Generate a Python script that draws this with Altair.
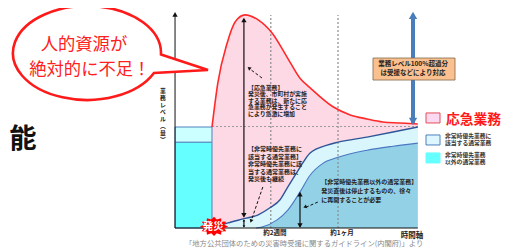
import math
import altair as alt
import pandas as pd

# ---------------- data ----------------
# x: days after the disaster, y: business level (% of normal)
emergency_day = [0, 1.4, 3.6, 5.5, 7.9, 11.0, 14.3, 17.9, 21.0, 23.3, 28.8, 32.9, 36.9, 40.7, 44.8, 49.0]
emergency_level = [100, 144, 183, 204, 211, 206, 193, 169, 148, 139, 120, 112, 108, 105, 104, 103]

priority_day = [0, 3.8, 7.4, 11.0, 13.8, 16.2, 18.1, 20.2, 21.7, 23.3, 27.4, 30.0, 36.9, 43.1, 49.0]
priority_level = [0, 5, 9, 13, 20, 28, 41, 55, 65, 74, 82, 85, 90, 95, 100]

other_day = [10.5, 11.9, 15.5, 18.1, 21.0, 23.3, 26.4, 30.0, 36.9, 43.1, 49.0]
other_level = [0, 1, 8, 18, 36, 52, 64, 70, 77, 81, 84]

pre_start_day = -8.8
pre_other_level = 85
pre_total_level = 100
end_day = 49.0

tick_days = [14, 30]
tick_labels = ["約2週間", "約1ヶ月"]

legend_labels = ["応急業務", "非常時優先業務に\n該当する通常業務", "非常時優先業務\n以外の通常業務"]

FONT = "Noto Sans CJK JP"
PINK = "#FDD8E5"
LIGHT = "#DAF6FD"
MID = "#93D2E6"
CYAN = "#66FFFF"
PALE = "#CCFFFF"
BLUE = "#4F81BD"

XS = alt.Scale(domain=[-48.57, 69.76], nice=False, zero=False)
YS = alt.Scale(domain=[-20.79, 217.82], nice=False, zero=False)


def X(f):
    return alt.X(f"{f}:Q", scale=XS, axis=None)


def Y(f):
    return alt.Y(f"{f}:Q", scale=YS, axis=None)


def T(df, **kw):
    base = dict(font=FONT, fontWeight="bold", fontSize=6, align="left", baseline="top",
                color="#222222", lineBreak="\n")
    base.update(kw)
    return alt.Chart(df).mark_text(**base).encode(x=X("x"), y=Y("y"), text="text:N")


def R(df, **kw):
    return alt.Chart(df).mark_rule(**kw).encode(x=X("x"), x2="x2", y=Y("y"), y2="y2")


def H(df, **kw):
    return alt.Chart(df).mark_point(shape="triangle-up", filled=True, opacity=1, **kw).encode(
        x=X("x"), y=Y("y"), angle=alt.Angle("a:Q", scale=None))


def rect(df, **kw):
    return alt.Chart(df).mark_rect(**kw).encode(x=X("x"), x2="x2", y=Y("y"), y2="y2")


# ---------- shapes (symbol paths in a -1..1 box) ----------
def ellipse_arc(cx, cy, rx, ry, t1, t2, n):
    d = (t2 - t1) / n
    k = 4 / 3 * math.tan(d / 4)
    out = []
    for i in range(n):
        a = t1 + i * d
        b = a + d
        p3 = (cx + rx * math.cos(b), cy + ry * math.sin(b))
        p0 = (cx + rx * math.cos(a), cy + ry * math.sin(a))
        c1 = (p0[0] - k * rx * math.sin(a), p0[1] + k * ry * math.cos(a))
        c2 = (p3[0] + k * rx * math.sin(b), p3[1] - k * ry * math.cos(b))
        out.append(f"C{c1[0]:.4f},{c1[1]:.4f} {c2[0]:.4f},{c2[1]:.4f} {p3[0]:.4f},{p3[1]:.4f}")
    return out


ecx, ecy, erx, ery = -0.254, -0.005, 0.767, 0.487
tu, tl = 0.03, 0.44
ub = (ecx + erx * math.cos(tu), ecy + ery * math.sin(tu))
lb = (ecx + erx * math.cos(tl), ecy + ery * math.sin(tl))
BUBBLE = (f"M{ub[0]:.4f},{ub[1]:.4f}L1,0.171L{lb[0]:.4f},{lb[1]:.4f}"
          + "".join(ellipse_arc(ecx, ecy, erx, ery, tl, tu + 2 * math.pi, 8)) + "Z")

pts = []
for i in range(24):
    a = i * math.pi / 12
    r = 1.0 if i % 2 == 0 else 0.74
    pts.append(f"{r * math.cos(a):.3f},{0.68 * r * math.sin(a):.3f}")
BURST = "M" + "L".join(pts) + "Z"

# ---------- frames ----------
df_em = pd.DataFrame({"x": emergency_day, "y": emergency_level})
df_pr = pd.DataFrame({"x": priority_day, "y": priority_level})
df_ot = pd.DataFrame({"x": other_day, "y": other_level})

layers = []
layers.append(alt.Chart(df_em).mark_area(color=PINK, interpolate="monotone", opacity=1)
              .encode(x=X("x"), y=Y("y"), y2=alt.datum(0)))
layers.append(alt.Chart(df_pr).mark_area(color=LIGHT, interpolate="monotone", opacity=1)
              .encode(x=X("x"), y=Y("y"), y2=alt.datum(0)))
layers.append(alt.Chart(df_ot).mark_area(color=MID, interpolate="monotone", opacity=1)
              .encode(x=X("x"), y=Y("y"), y2=alt.datum(0)))

# pre-disaster bars
layers.append(rect(pd.DataFrame({"x": [pre_start_day], "x2": [0], "y": [0], "y2": [pre_other_level]}),
                   color=CYAN, stroke=BLUE, strokeWidth=1))
layers.append(rect(pd.DataFrame({"x": [pre_start_day], "x2": [0], "y": [pre_other_level], "y2": [pre_total_level]}),
                   color=PALE, stroke=BLUE, strokeWidth=1))

# dotted guides
layers.append(R(pd.DataFrame({"x": tick_days, "x2": tick_days, "y": [0, 0], "y2": [211, 211]}),
                color="#8C8C8C", strokeDash=[2, 2], strokeWidth=1.2))
layers.append(R(pd.DataFrame({"x": [0], "x2": [end_day], "y": [100.5], "y2": [100.5]}),
                color="#9A9A9A", strokeDash=[2, 2], strokeWidth=1.2))

# curves
layers.append(alt.Chart(df_em).mark_line(color="#FF2A2A", strokeWidth=1.6, interpolate="monotone")
              .encode(x=X("x"), y=Y("y")))
layers.append(alt.Chart(df_pr).mark_line(color="#2F5597", strokeWidth=1.4, interpolate="monotone")
              .encode(x=X("x"), y=Y("y")))
layers.append(alt.Chart(df_ot).mark_line(color="#4A78C2", strokeWidth=1.1, interpolate="monotone")
              .encode(x=X("x"), y=Y("y")))

# axes
layers.append(R(pd.DataFrame({"x": [pre_start_day, pre_start_day], "x2": [pre_start_day, end_day],
                              "y": [0, 0], "y2": [212, 0]}), color="#111111", strokeWidth=1))

# black arrows
layers.append(R(pd.DataFrame({"x": [7.6, 7.6, 20.95], "x2": [7.6, 7.6, 20.95],
                              "y": [11.5, 1, 1], "y2": [207, 8, 35]}), color="#111111", strokeWidth=1.2))
layers.append(R(pd.DataFrame({"x": [11.9, 12.1, 25.2], "x2": [8.9, 9.4, 22.3],
                              "y": [148.5, 40.6, 25.7], "y2": [157.8, 8.0, 20.4]}),
                color="#111111", strokeWidth=1, strokeDash=[3, 2]))
layers.append(H(pd.DataFrame({"x": [pre_start_day, 7.6, 7.6, 20.95, 20.95],
                              "y": [211.5, 206, 12.5, 33.5, 2.5],
                              "a": [0, 0, 180, 0, 180]}), size=28, color="#111111"))
layers.append(H(pd.DataFrame({"x": [7.6, 7.6], "y": [7.6, 1.6], "a": [0, 180]}), size=7, color="#111111"))
layers.append(H(pd.DataFrame({"x": [8.81, 9.29, 22.14], "y": [158.4, 6.9, 20.8],
                              "a": [307.6, 199.4, 249]}), size=16, color="#111111"))

# thick blue arrow
layers.append(R(pd.DataFrame({"x": [47.86], "x2": [47.86], "y": [104], "y2": [211]}),
                color="#4A7EBB", strokeWidth=4))
layers.append(H(pd.DataFrame({"x": [47.86, 47.86], "y": [210.5, 105.5], "a": [0, 180]}),
                size=70, color="#4A7EBB"))

# orange note
layers.append(rect(pd.DataFrame({"x": [38.33], "x2": [57.86], "y": [146.5], "y2": [168.3]}),
                   color="#FAC08F", stroke="#7F6A4A", strokeWidth=0.8))
layers.append(T(pd.DataFrame({"x": [47.86, 47.86], "y": [162.2, 153.6],
                              "text": ["業務レベル100%超過分", "は受援などにより対応"]}),
                align="center", baseline="middle", fontSize=6.5))

# annotations
layers.append(T(pd.DataFrame({"x": [8.57], "y": [141.6],
                              "text": ["【応急業務】\n発災後、市町村が実施\nする業務は、新たに応\n急業務が発生すること\nにより急激に増加"]}),
                lineHeight=6.4, fontSize=5.9))
layers.append(T(pd.DataFrame({"x": [8.57], "y": [80.7],
                              "text": ["【非常時優先業務に\n該当する通常業務】\n非常時優先業務に該\n当する通常業務は、\n発災後も継続"]}),
                lineHeight=7.5))
layers.append(T(pd.DataFrame({"x": [26.0], "y": [48.5],
                              "text": ["【非常時優先業務以外の通常業務】\n発災直後は停止するものの、徐々\nに再開することが必要"]}),
                lineHeight=9))

# legend
layers.append(rect(pd.DataFrame({"x": [50.95], "x2": [54.29], "y": [104.0], "y2": [113.9]}),
                   color="#FBD9F0", stroke="#E0505A", strokeWidth=1))
layers.append(rect(pd.DataFrame({"x": [50.95], "x2": [54.29], "y": [82.2], "y2": [92.1]}),
                   color="#DDF6FF", stroke=BLUE, strokeWidth=1))
layers.append(rect(pd.DataFrame({"x": [50.95], "x2": [54.29], "y": [64.4], "y2": [74.3]}),
                   color=CYAN, stroke=CYAN, strokeWidth=1))
layers.append(T(pd.DataFrame({"x": [55.7], "y": [106.9], "text": [legend_labels[0]]}),
                baseline="middle", fontSize=13.8, color="#FF1A1A"))
layers.append(T(pd.DataFrame({"x": [55.48, 55.48], "y": [93.6, 75.2], "text": legend_labels[1:]}),
                lineHeight=6.6, fontSize=5.8, color="#333333"))

# speech bubble
layers.append(alt.Chart(pd.DataFrame({"x": [-23.93], "y": [172.8]})).mark_point(
    shape=BUBBLE, size=37249, filled=True, fill="white", stroke="#FF1A1A", strokeWidth=2.6,
    opacity=1).encode(x=X("x"), y=Y("y")))
layers.append(T(pd.DataFrame({"x": [-30.48, -29.1], "y": [181.2, 156.4],
                              "text": ["人的資源が", "絶対的に不足！"]}),
                align="center", baseline="middle", fontSize=17.3, fontWeight="normal", color="#FF2020"))

# disaster burst
layers.append(alt.Chart(pd.DataFrame({"x": [0.48], "y": [1.5]})).mark_point(
    shape=BURST, size=800, filled=True, color="#FF0000", opacity=1).encode(x=X("x"), y=Y("y")))
layers.append(T(pd.DataFrame({"x": [0.3], "y": [1.0], "text": ["発災"]}),
                align="center", baseline="middle", fontSize=10.5, color="white"))

# axis texts
layers.append(T(pd.DataFrame({"x": tick_days, "y": [-4.95, -4.95], "text": tick_labels}),
                align="center", baseline="middle", fontSize=6.5, dx=4))
layers.append(T(pd.DataFrame({"x": [47.62], "y": [-7.9], "text": ["時間軸"]}),
                align="center", baseline="middle", fontSize=7.5))
layers.append(T(pd.DataFrame({"x": [-11.67], "y": [138.6], "text": ["業\n務\nレ\nベ\nル\n︵\n量\n︶"]}),
                align="center", fontSize=5.8, lineHeight=7))
layers.append(T(pd.DataFrame({"x": [-6.43], "y": [-15.8],
                              "text": ["「地方公共団体のための災害時受援に関するガイドライン(内閣府)」より"]}),
                baseline="middle", fontSize=7.3, fontWeight="normal", color="#8A8A8A"))
layers.append(T(pd.DataFrame({"x": [-45.0], "y": [87.1], "text": ["能"]}),
                align="center", baseline="middle", fontSize=27, color="#111111"))

chart = alt.layer(*layers).properties(
    width=497, height=241, autosize=alt.AutoSizeParams(type="none"), padding=0,
    background="white",
).configure_view(stroke=None)

chart.save("out.html", embed_options={"renderer": "svg", "actions": False})
